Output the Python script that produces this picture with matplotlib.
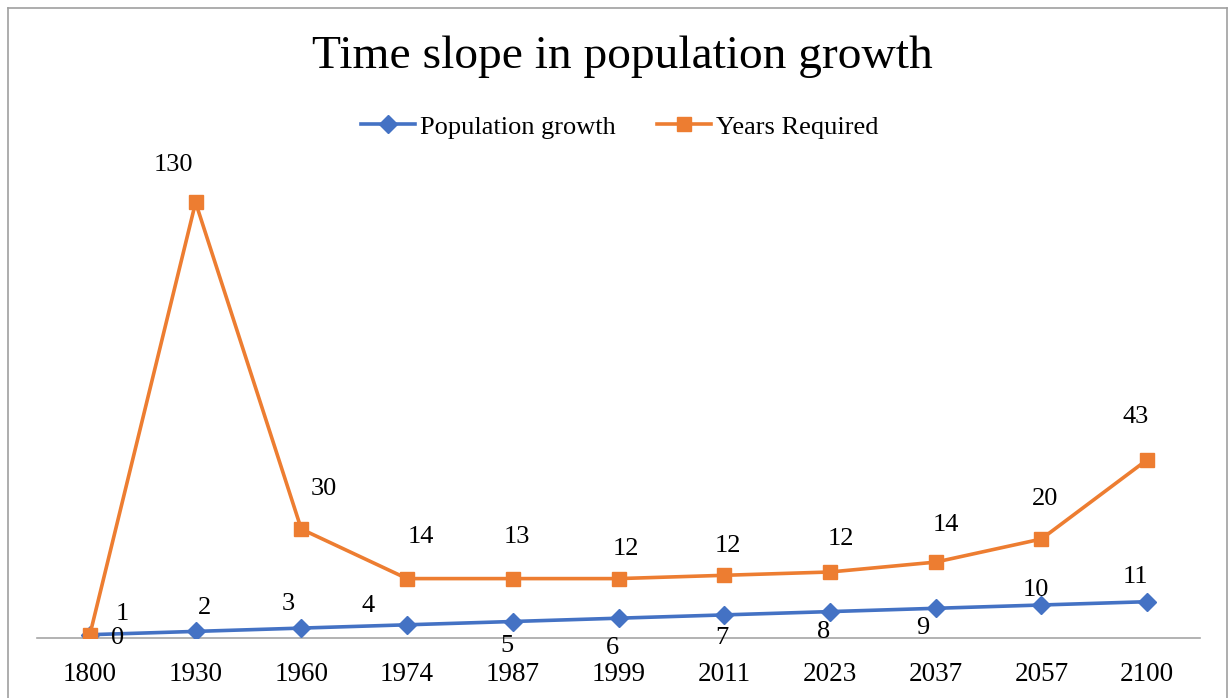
import matplotlib
matplotlib.use("Agg")
import matplotlib.pyplot as plt
from matplotlib.lines import Line2D
import numpy as np

years = ["1800", "1930", "1960", "1974", "1987", "1999", "2011", "2023", "2037", "2057", "2100"]
population_growth = [1, 2, 3, 4, 5, 6, 7, 8, 9, 10, 11]
years_required = [0, 130, 30, 14, 13, 12, 12, 12, 14, 20, 43]

# label offsets in pixels (style only)
blue_off = [(32, 21), (9, 23), (-13, 24), (-39, 19), (-6, -24), (-6, -30), (-2, -23),
            (-6, -20), (-13, -20), (-6, 15), (-12, 25)]
orange_off = [(28, -3), (-22, 37), (22, 40), (14, 42), (4, 42), (7, 30), (4, 29),
              (11, 33), (10, 37), (4, 40), (-12, 43)]

plt.rcParams['font.family'] = ['Liberation Serif', 'DejaVu Serif']

W, H = 1229, 698
fig = plt.figure(figsize=(W / 100, H / 100), dpi=100)
ax = fig.add_axes([37 / W, 60 / H, (1200 - 37) / W, 462 / H])

x = np.arange(len(years))
blue = np.array(population_growth, dtype=float)
stacked = blue + np.array(years_required, dtype=float)

c_blue = "#4472C4"
c_orange = "#ED7D31"

ax.plot(x, blue, color=c_blue, lw=2.6, marker="D", ms=9, zorder=3)
ax.plot(x, stacked, color=c_orange, lw=2.6, marker="s", ms=10.5, zorder=4)

for i in range(len(x)):
    ax.annotate(str(population_growth[i]), (x[i], blue[i]), xytext=blue_off[i],
                textcoords="offset pixels", ha="center", va="center", fontsize=19)
    ax.annotate(str(years_required[i]), (x[i], stacked[i]), xytext=orange_off[i],
                textcoords="offset pixels", ha="center", va="center", fontsize=19)

ax.set_xlim(-0.5, len(x) - 0.5)
ax.set_ylim(0, 140)
ax.set_xticks(x)
ax.set_xticklabels(years, fontsize=19.5)
ax.set_yticks([])
for s in ["top", "right", "left"]:
    ax.spines[s].set_visible(False)
ax.spines["bottom"].set_color("#A6A6A6")
ax.spines["bottom"].set_linewidth(1.2)
ax.tick_params(axis="x", length=0, pad=17)

fig.text(622 / W, 1 - 57 / H, "Time slope in population growth", ha="center", va="center", fontsize=34.2)

handles = [Line2D([], [], color=c_blue, lw=2.6, marker="D", ms=9),
           Line2D([], [], color=c_orange, lw=2.6, marker="s", ms=10.5)]
fig.legend(handles, ["Population growth", "Years Required"], loc="center",
           bbox_to_anchor=(620 / W, 1 - 127 / H), ncol=2, frameon=False, fontsize=19,
           handlelength=2.05, handletextpad=0.19, columnspacing=1.55,
           borderpad=0, borderaxespad=0)

# figure border
bc = "#A0A0A0"
fig.add_artist(Line2D([8 / W, 8 / W], [0, 1 - 8 / H], color=bc, lw=1.2, transform=fig.transFigure))
fig.add_artist(Line2D([8 / W, 1227 / W], [1 - 8 / H, 1 - 8 / H], color=bc, lw=1.2, transform=fig.transFigure))
fig.add_artist(Line2D([1227 / W, 1227 / W], [0, 1 - 8 / H], color=bc, lw=1.2, transform=fig.transFigure))

fig.savefig("out.png", dpi=100)
